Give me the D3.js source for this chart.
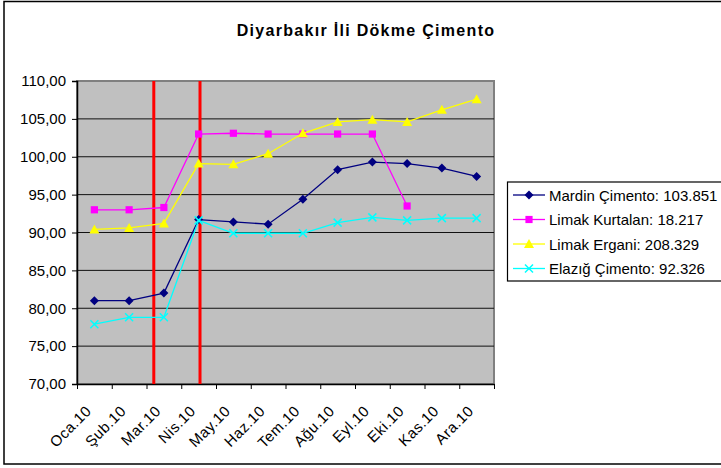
<!DOCTYPE html>
<html>
<head>
<meta charset="utf-8">
<script src="https://cdn.jsdelivr.net/npm/d3@7"></script>
<style>
  body { margin: 0; background: #fff; }
  svg text { font-family: Arial, "Liberation Sans", sans-serif; }
</style>
</head>
<body>
<div id="chart"></div>
<script>
// DATA
const months = ["Oca.10", "Şub.10", "Mar.10", "Nis.10", "May.10", "Haz.10",
                "Tem.10", "Ağu.10", "Eyl.10", "Eki.10", "Kas.10", "Ara.10"];
const mardin   = [81.0, 81.0, 82.0, 91.7, 91.4, 91.1, 94.4, 98.3, 99.3, 99.1, 98.5, 97.4];
const kurtalan = [93.0, 93.0, 93.3, 103.0, 103.1, 103.0, 103.0, 103.0, 103.0, 93.5, null, null];
const ergani   = [90.4, 90.6, 91.2, 99.1, 99.0, 100.4, 103.1, 104.6, 104.9, 104.6, 106.2, 107.6];
const elazig   = [77.9, 78.8, 78.8, 91.6, 89.9, 89.9, 89.9, 91.3, 92.0, 91.6, 91.9, 91.9];
const seriesNames = ["Mardin Çimento: 103.851", "Limak Kurtalan: 18.217",
                     "Limak Ergani: 208.329", "Elazığ Çimento: 92.326"];
const yTicks = [70, 75, 80, 85, 90, 95, 100, 105, 110];
// red marker lines, position in category units (0 = left edge of Oca.10)
const redLines = [2.21, 3.54];

const series = [
  {name: seriesNames[0], values: mardin,   color: "#000080", symbol: "diamond"},
  {name: seriesNames[1], values: kurtalan, color: "#FF00FF", symbol: "square"},
  {name: seriesNames[2], values: ergani,   color: "#FFFF00", symbol: "triangle"},
  {name: seriesNames[3], values: elazig,   color: "#00FFFF", symbol: "x"}
];

// SVG
const W = 721, H = 468;
const plot = {left: 77, top: 81, right: 494, bottom: 384};

const svg = d3.select("#chart").append("svg")
  .attr("width", W)
  .attr("height", H);

// outer chart frame
svg.append("rect")
  .attr("x", 4).attr("y", 1.5)
  .attr("width", W + 10).attr("height", 462.5)
  .attr("fill", "#fff")
  .attr("stroke", "#000")
  .attr("stroke-width", 1.5);

// SCALES
const x = d3.scaleLinear().domain([0, months.length]).range([plot.left, plot.right]);
const y = d3.scaleLinear().domain([70, 110]).range([plot.bottom, plot.top]);
const fmt = d3.formatLocale({decimal: ",", thousands: ".", grouping: [3], currency: ["", ""]}).format(".2f");

// plot area
svg.append("rect")
  .attr("x", plot.left).attr("y", plot.top)
  .attr("width", plot.right - plot.left).attr("height", plot.bottom - plot.top)
  .attr("fill", "#C0C0C0")
  .attr("stroke", "#808080")
  .attr("stroke-width", 2);

// gridlines
svg.append("g")
  .selectAll("line")
  .data(yTicks.slice(1, -1))
  .enter().append("line")
  .attr("x1", plot.left).attr("x2", plot.right)
  .attr("y1", d => y(d)).attr("y2", d => y(d))
  .attr("stroke", "#111")
  .attr("stroke-width", 1);

// y axis
const yAxis = svg.append("g")
  .attr("transform", `translate(${plot.left},0)`)
  .call(d3.axisLeft(y).tickValues(yTicks).tickFormat(fmt).tickSize(5).tickPadding(6));
yAxis.select(".domain").attr("stroke", "#000").attr("stroke-width", 1.5);
yAxis.selectAll("text").style("font-size", "15px").attr("fill", "#000");

// x axis (ticks at category boundaries)
const xAxis = svg.append("g")
  .attr("transform", `translate(0,${plot.bottom})`)
  .call(d3.axisBottom(x).tickValues(d3.range(0, months.length + 1)).tickFormat("").tickSize(5).tickSizeOuter(0));
xAxis.select(".domain").attr("stroke", "#000").attr("stroke-width", 1.5);

svg.append("g")
  .selectAll("text")
  .data(months)
  .enter().append("text")
  .attr("transform", (d, i) => `translate(${x(i + 0.5) - 2},${plot.bottom + 28}) rotate(-45)`)
  .attr("text-anchor", "end")
  .style("font-size", "15px")
  .style("letter-spacing", "0.5px")
  .text(d => d);

// red vertical lines
svg.append("g")
  .selectAll("line")
  .data(redLines)
  .enter().append("line")
  .attr("x1", d => x(d)).attr("x2", d => x(d))
  .attr("y1", plot.top).attr("y2", plot.bottom)
  .attr("stroke", "#FF0000")
  .attr("stroke-width", 3);

// DRAW LINES
const line = d3.line()
  .defined(d => d != null)
  .x((d, i) => x(i + 0.5))
  .y(d => y(d));

function drawMarker(g, s, cx, cy) {
  let d;
  if (s.symbol === "x") {
    const r = 4;
    g.append("path")
      .attr("d", `M${cx - r},${cy - r}L${cx + r},${cy + r}M${cx - r},${cy + r}L${cx + r},${cy - r}`)
      .attr("stroke", s.color)
      .attr("stroke-width", 1.5)
      .attr("fill", "none");
    return;
  }
  if (s.symbol === "diamond") {
    const r = 4.5;
    d = `M${cx},${cy - r}L${cx + r},${cy}L${cx},${cy + r}L${cx - r},${cy}Z`;
  } else if (s.symbol === "square") {
    const r = 3.6;
    d = `M${cx - r},${cy - r}H${cx + r}V${cy + r}H${cx - r}Z`;
  } else {
    const r = 5;
    d = `M${cx},${cy - r}L${cx + r},${cy + r * 0.8}L${cx - r},${cy + r * 0.8}Z`;
  }
  g.append("path").attr("d", d).attr("fill", s.color);
}

series.forEach(s => {
  const g = svg.append("g");
  g.append("path")
    .attr("d", line(s.values))
    .attr("fill", "none")
    .attr("stroke", s.color)
    .attr("stroke-width", 1.3);
  s.values.forEach((v, i) => {
    if (v != null) drawMarker(g, s, x(i + 0.5), y(v));
  });
});

// COLOR LEGEND & TITLE
const legend = svg.append("g");
legend.append("rect")
  .attr("x", 507.5).attr("y", 182)
  .attr("width", 230).attr("height", 99)
  .attr("fill", "#fff")
  .attr("stroke", "#000")
  .attr("stroke-width", 1.2);

series.forEach((s, i) => {
  const ly = 195 + i * 24.5;
  const g = legend.append("g");
  g.append("line")
    .attr("x1", 513).attr("x2", 545)
    .attr("y1", ly).attr("y2", ly)
    .attr("stroke", s.color)
    .attr("stroke-width", 1.3);
  drawMarker(g, s, 529, ly);
  g.append("text")
    .attr("x", 549)
    .attr("y", ly + 5.5)
    .style("font-size", "15px")
    .text(s.name);
});

svg.append("text")
  .attr("x", 366)
  .attr("y", 36)
  .attr("text-anchor", "middle")
  .style("font-size", "16px")
  .style("font-weight", "bold")
  .style("letter-spacing", "1.3px")
  .text("Diyarbakır İli Dökme Çimento");
</script>
</body>
</html>
